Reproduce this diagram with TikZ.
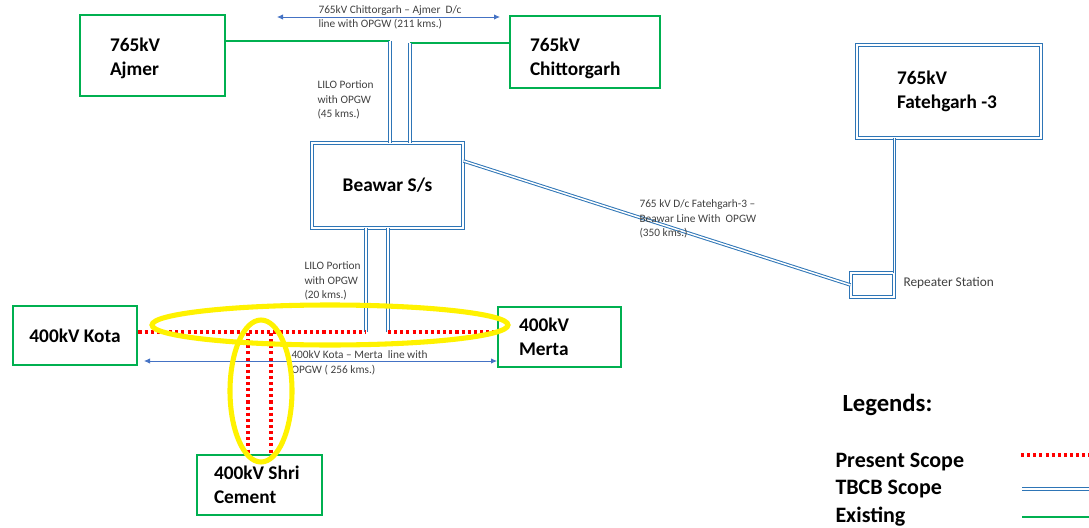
\documentclass[tikz,border=0pt]{standalone}
\usepackage{fontspec}
\setmainfont{Carlito}
\usepackage{tikz}
\usetikzlibrary{arrows.meta}
\tikzset{every picture/.style={line width=0.75pt}}
\definecolor{exgreen}{RGB}{0,176,80}
\definecolor{tbblue}{RGB}{46,117,182}
\definecolor{dimblue}{RGB}{68,114,196}
\definecolor{txtgray}{RGB}{64,64,64}
\tikzset{
  gbox/.style={draw=exgreen, line width=2.2pt, fill=white, align=flush left, inner sep=0pt, font=\fontsize{14.5}{18}\selectfont\bfseries},
  bbox/.style={draw=tbblue, double=white, double distance=1.2pt, line width=0.7pt, fill=white, align=flush left, inner sep=0pt, font=\fontsize{14.5}{18}\selectfont\bfseries},
  existing/.style={exgreen, line width=2.2pt},
  tbcb/.style={tbblue, double=white, double distance=1.1pt, line width=0.75pt},
  present/.style={red, line width=2.3pt, dash pattern=on 2.3pt off 2.3pt},
  ring/.style={yellow, line width=3.8pt},
  dimline/.style={dimblue, line width=0.6pt, {Latex[length=4.5pt,width=4pt]}-{Latex[length=4.5pt,width=4pt]}},
  note/.style={txtgray, align=flush left, inner sep=0pt, anchor=west, font=\fontsize{8.5}{11}\selectfont},
  legtxt/.style={anchor=west, inner sep=0pt, font=\fontsize{16.5}{20}\selectfont\bfseries}
}

\begin{document}
\begin{tikzpicture}[x=0.75pt,y=0.75pt,yscale=-1,xscale=1]
\useasboundingbox (0,0) rectangle (1089,528);
\node [gbox, minimum width=108.75pt, minimum height=60.75pt, text width=63.75pt] (ajmer) at (152.5,55.5) {\rule{0pt}{14pt}765kV\\Ajmer};
\node [gbox, minimum width=112.5pt, minimum height=54pt, text width=82.5pt] (chittor) at (585,52) {\rule{0pt}{20pt}765kV\\Chittorgarh};
\node [bbox, minimum width=138pt, minimum height=69.75pt, text width=78pt] (fateh) at (949,91.5) {765kV\\Fatehgarh -3};
\node [bbox, minimum width=113.25pt, minimum height=63.75pt] (beawar) at (387.5,185.5) {Beawar S/s};
\node [gbox, minimum width=93pt, minimum height=44.25pt] (kota) at (75,335.5) {400kV Kota};
\node [gbox, minimum width=92.25pt, minimum height=45pt, text width=60.75pt] (merta) at (559.5,337) {400kV\\Merta};
\node [gbox, minimum width=93.75pt, minimum height=45pt, text width=68.25pt] (shri) at (259.5,485) {400kV Shri\\Cement};
\node [bbox, minimum width=32.25pt, minimum height=18pt] (rep) at (872.5,285) {};

\coordinate (liloA) at (390,41);
\coordinate (liloB) at (410,43);
\coordinate (kotaJ) at (366,332);
\coordinate (mertaJ) at (388,332);
\coordinate (scA) at (248,333);
\coordinate (scB) at (271,333);
\coordinate (topL) at (277,17);
\coordinate (topR) at (500,17);
\coordinate (kmL) at (144,361);
\coordinate (kmR) at (497,361);

\draw [existing] (ajmer.east |- liloA) -- (liloA);
\draw [existing] (chittor.west |- liloB) -- (liloB);
\draw [tbcb] (liloA) -- (liloA |- beawar.north);
\draw [tbcb] (liloB) -- (liloB |- beawar.north);
\draw [tbcb] (kotaJ |- beawar.south) -- (kotaJ);
\draw [tbcb] (mertaJ |- beawar.south) -- (mertaJ);
\draw [present] (kota.east |- kotaJ) -- (kotaJ);
\draw [present] (mertaJ) -- (merta.west |- mertaJ);
\draw [present] (scA) -- (scA |- shri.north);
\draw [present] (scB) -- (scB |- shri.north);
\draw [tbcb] ([yshift=-18.4pt]beawar.east) -- (rep.west);
\draw [tbcb] (rep.north east |- fateh.south) -- (rep.north east);
\draw [dimline] (topL) -- (topR);
\draw [dimline] (kmL) -- (kmR);

\node [note] (toptxt) at (318,17.5) {765kV Chittorgarh -- Ajmer\ \ D/c\\line with OPGW (211 kms.)};
\node [note] (lilotop) at (317,100) {LILO Portion\\with OPGW\\(45 kms.)};
\node [note] (lilobot) at (304,281) {LILO Portion\\with OPGW\\(20 kms.)};
\node [note] (kmtxt) at (291,363) {400kV Kota -- Merta\ \ line with\\OPGW ( 256 kms.)};
\node [note] (fbtxt) at (639,219) {765 kV D/c Fatehgarh-3 --\\Beawar Line With\ \ OPGW\\(350 kms.)};
\node [note, font=\fontsize{10}{12}\selectfont] (reptxt) at (903,283) {Repeater Station};

\draw [ring] (330,325) ellipse [x radius=178, y radius=20];
\draw [ring] (261,391) ellipse [x radius=31, y radius=71];

\node [legtxt, font=\fontsize{18.5}{22}\selectfont\bfseries] (leg) at (842,405) {Legends:};
\node [legtxt] (legpres) at (835,462) {Present Scope};
\node [legtxt] (legtbcb) at (835,489) {TBCB Scope};
\node [legtxt] (legex) at (835,517) {Existing};
\draw [present] (1021,455) -- (1089,455);
\draw [tbcb] (1022,489) -- (1089,489);
\draw [existing] (1022,517) -- (1089,517);
\end{tikzpicture}
\end{document}
